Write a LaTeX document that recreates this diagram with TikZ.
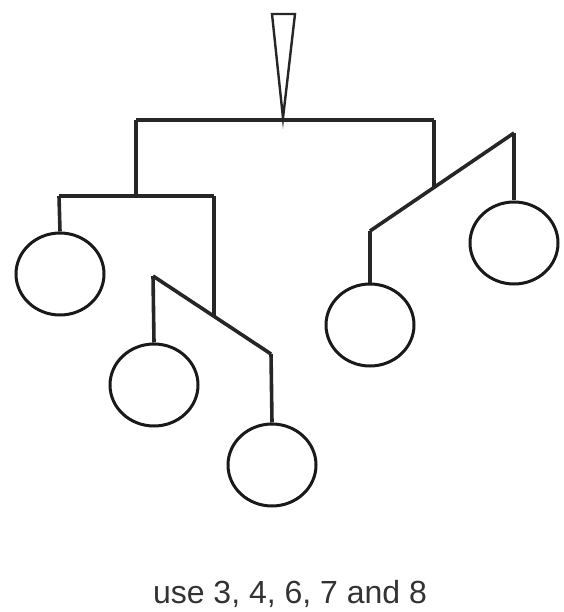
\documentclass[tikz,border=0pt]{standalone}
\usepackage{fontspec}
\setmainfont{Liberation Sans}
\usetikzlibrary{shapes.geometric}
\begin{document}
\begin{tikzpicture}[x=1pt,y=-1pt,
  bar/.style={line width=3.6pt,draw=black!85},
  weight/.style={ellipse,draw=black!90,line width=3pt,minimum width=88pt,minimum height=82pt,inner sep=0pt},
  hanger/.style={draw=black!85,line width=2.4pt,line join=miter}]
\useasboundingbox (0,0) rectangle (563,612);
% hanger
\coordinate (hl) at (272,14);
\coordinate (hr) at (295,14);
\coordinate (top) at (283,118);
\draw[hanger] (hl) -- (hr) -- (top) -- cycle;
% top bar
\coordinate (tl) at (136,120);
\coordinate (tr) at (434,120);
\draw[bar] (tl) -- (tr);
% left arm
\coordinate (lj) at (136,196);
\coordinate (ll) at (59,196);
\coordinate (lr) at (214,196);
\draw[bar] (tl) -- (lj);
\draw[bar] (ll) -- (lr);
% left slanted arm
\coordinate (sa) at (153,276);
\coordinate (sb) at (271,354);
\coordinate (sj) at (214,316);
\draw[bar] (lr) -- (sj);
\draw[bar] (sa) -- (sb);
% right slanted arm
\coordinate (ra) at (370,231);
\coordinate (rb) at (514,133);
\coordinate (rj) at (434,187);
\draw[bar] (tr) -- (rj);
\draw[bar] (ra) -- (rb);
% weights
\node[weight] (w1) at (60,274) {};
\node[weight] (w2) at (154,385) {};
\node[weight] (w3) at (272,465) {};
\node[weight] (w4) at (370,325) {};
\node[weight] (w5) at (514,243) {};
\draw[bar] (ll) -- (w1.north);
\draw[bar] (sa) -- (w2.north);
\draw[bar] (sb) -- (w3.north);
\draw[bar] (ra) -- (w4.north);
\draw[bar] (rb) -- (w5.north);
% label
\node[text=black!80,font=\fontsize{32}{36}\selectfont,anchor=base] (lab) at (290,603) {use 3, 4, 6, 7 and 8};
\end{tikzpicture}
\end{document}
